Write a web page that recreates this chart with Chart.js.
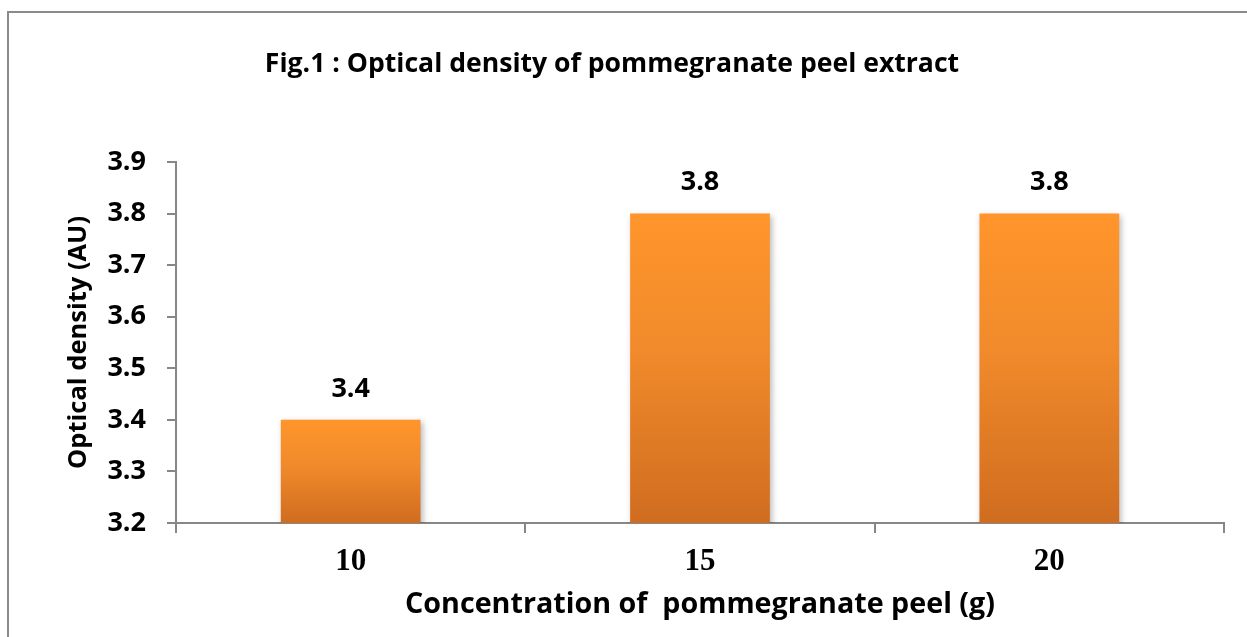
<!DOCTYPE html>
<html>
<head>
<meta charset="utf-8">
<script src="https://cdn.jsdelivr.net/npm/chart.js@4"></script>
<style>
  html, body { margin: 0; padding: 0; background: #fff; }
  #wrap { width: 1247px; height: 637px; position: relative; }
</style>
</head>
<body>
<div id="wrap"><canvas id="c" width="1247" height="637"></canvas></div>
<script>
const categories = ['10', '15', '20'];
const opticalDensity = [3.4, 3.8, 3.8];
const yTickValues = [3.2, 3.3, 3.4, 3.5, 3.6, 3.7, 3.8, 3.9];
const chartTitle = 'Fig.1 : Optical density of pommegranate peel extract';
const yTitle = 'Optical density (AU)';
const xTitle = 'Concentration of  pommegranate peel (g)';

const axisColor = '#878787';
const sansFont = '"Open Sans", Lato, sans-serif';

function barGradient(context) {
  const chart = context.chart;
  const ys = chart.scales && chart.scales.y;
  if (!chart.chartArea || !ys) return '#F08A2A';
  const v = context.raw;
  const top = ys.getPixelForValue(v);
  const bottom = ys.getPixelForValue(ys.min);
  const g = chart.ctx.createLinearGradient(0, top, 0, bottom);
  g.addColorStop(0, '#FF952B');
  g.addColorStop(0.45, '#F08A2B');
  g.addColorStop(1, '#D06C1F');
  return g;
}

const framePlugin = {
  id: 'frame',
  beforeDraw(chart) {
    const ctx = chart.ctx;
    ctx.save();
    ctx.fillStyle = '#ffffff';
    ctx.fillRect(0, 0, chart.width, chart.height);
    ctx.strokeStyle = '#8a8a8a';
    ctx.lineWidth = 2;
    ctx.beginPath();
    ctx.moveTo(8, chart.height + 5);
    ctx.lineTo(8, 12);
    ctx.lineTo(chart.width + 5, 12);
    ctx.stroke();
    ctx.restore();
  }
};

const shadowPlugin = {
  id: 'barShadow',
  beforeDatasetsDraw(chart) {
    const ctx = chart.ctx;
    ctx.save();
    ctx.shadowColor = 'rgba(0,0,0,0.28)';
    ctx.shadowBlur = 6;
    ctx.shadowOffsetX = 2;
    ctx.shadowOffsetY = 2;
  },
  afterDatasetsDraw(chart) {
    chart.ctx.restore();
  }
};

const valueLabelPlugin = {
  id: 'valueLabels',
  afterDatasetsDraw(chart) {
    const ctx = chart.ctx;
    const meta = chart.getDatasetMeta(0);
    ctx.save();
    ctx.font = 'bold 27px ' + sansFont;
    ctx.fillStyle = '#000';
    ctx.textAlign = 'center';
    ctx.textBaseline = 'middle';
    meta.data.forEach((bar, i) => {
      ctx.fillText(opticalDensity[i].toFixed(1), bar.x, bar.y - 31);
    });
    ctx.restore();
  }
};

new Chart(document.getElementById('c'), {
  type: 'bar',
  data: {
    labels: categories,
    datasets: [{
      data: opticalDensity,
      backgroundColor: barGradient,
      borderWidth: 0,
      barPercentage: 0.4,
      categoryPercentage: 1.0
    }]
  },
  options: {
    responsive: false,
    animation: false,
    devicePixelRatio: 1,
    layout: { padding: { left: 0, right: 23, top: 0, bottom: 0 } },
    plugins: {
      legend: { display: false },
      tooltip: { enabled: false },
      title: {
        display: true,
        text: chartTitle,
        color: '#000',
        font: { family: sansFont, size: 26.6, weight: 'bold' },
        padding: { top: 48, bottom: 82 }
      }
    },
    scales: {
      x: {
        type: 'category',
        grid: {
          offset: true,
          drawOnChartArea: false,
          drawTicks: true,
          tickLength: 10,
          color: axisColor,
          lineWidth: 2
        },
        border: { color: axisColor, width: 2 },
        ticks: {
          color: '#000',
          font: { family: '"Liberation Serif", "Times New Roman", serif', size: 31, weight: 'bold' },
          padding: 10,
          maxRotation: 0
        },
        title: {
          display: true,
          text: xTitle,
          color: '#000',
          font: { family: sansFont, size: 28.7, weight: 'bold' },
          padding: { top: 0, bottom: 15 }
        },
        afterFit(scale) { scale.height = 114; }
      },
      y: {
        min: 3.2,
        max: 3.9,
        grid: {
          drawOnChartArea: false,
          drawTicks: true,
          tickLength: 9,
          color: axisColor,
          lineWidth: 2
        },
        border: { color: axisColor, width: 2 },
        afterBuildTicks(scale) {
          scale.ticks = yTickValues.map(v => ({ value: v }));
        },
        ticks: {
          color: '#000',
          font: { family: sansFont, size: 27, weight: 'bold' },
          padding: 21,
          callback: v => Number(v).toFixed(1)
        },
        title: {
          display: true,
          text: yTitle,
          color: '#000',
          font: { family: sansFont, size: 25.5, weight: 'bold' },
          padding: { top: 63, bottom: 0 }
        },
        afterFit(scale) { scale.width = 176; }
      }
    }
  },
  plugins: [framePlugin, shadowPlugin, valueLabelPlugin]
});
</script>
</body>
</html>
